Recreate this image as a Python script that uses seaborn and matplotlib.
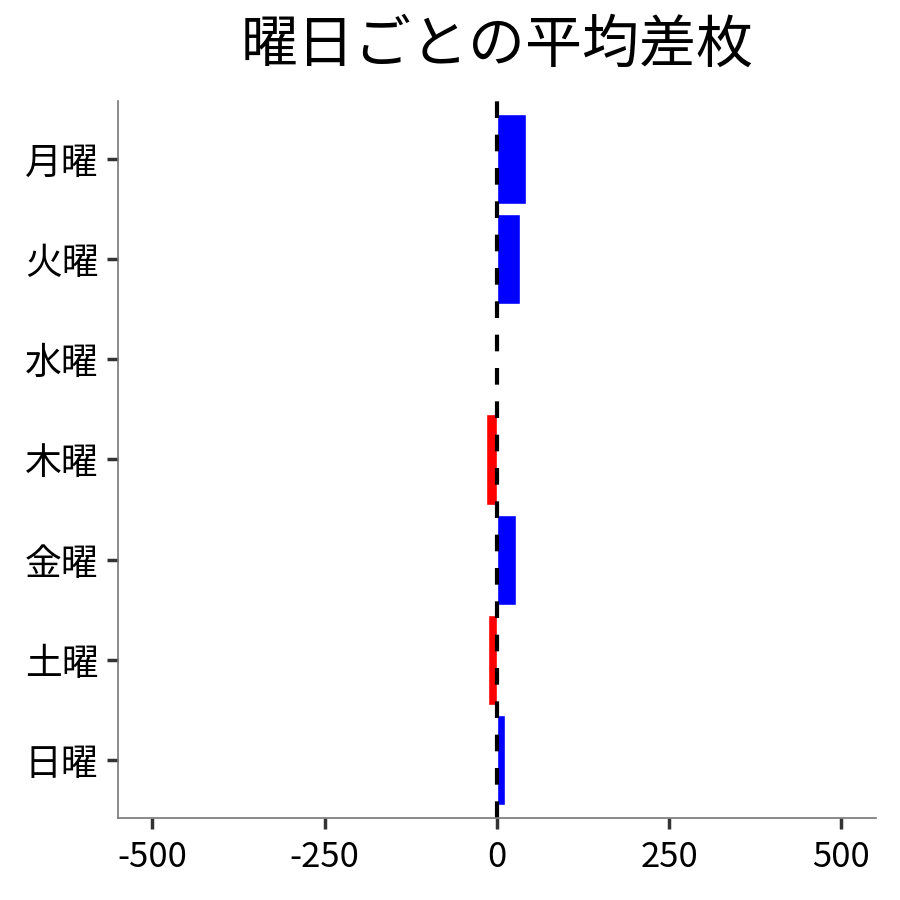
import matplotlib
matplotlib.use("Agg")
import matplotlib.pyplot as plt
import seaborn as sns
import pandas as pd

# data
days = ["月曜", "火曜", "水曜", "木曜", "金曜", "土曜", "日曜"]
avg_diff = [42, 33, 0, -15, 28, -13, 12]
title = "曜日ごとの平均差枚"
xticks = [-500, -250, 0, 250, 500]

sns.set_theme(style="ticks")
plt.rcParams["font.family"] = ["Noto Sans CJK JP", "DejaVu Sans"]
plt.rcParams["text.color"] = "black"
plt.rcParams["xtick.labelcolor"] = "black"
plt.rcParams["ytick.labelcolor"] = "black"

df = pd.DataFrame({"day": days, "diff": avg_diff})
colors = ["#0000ff" if v >= 0 else "#ff0000" for v in avg_diff]

fig = plt.figure(figsize=(9, 9), dpi=100)
ax = fig.add_axes([0.131, 0.091, 0.842, 0.797])

sns.barplot(data=df, x="diff", y="day", hue="day", palette=colors,
            width=0.9, legend=False, saturation=1, ax=ax)
ax.axvline(0, color="black", lw=3, ls=(0, (4, 4)))

ax.set_xlim(-550, 550)
ax.set_ylim(6.58, -0.58)
ax.set_xticks(xticks)
ax.set_xticklabels([str(t) for t in xticks])
ax.set_xlabel("")
ax.set_ylabel("")
ax.set_title(title, fontsize=41, pad=28, color="black")

sns.despine(ax=ax)
for s in ["left", "bottom"]:
    ax.spines[s].set_color("#777777")
    ax.spines[s].set_linewidth(1.2)
ax.tick_params(axis="both", length=8, width=2.5, color="#333333")
ax.tick_params(axis="y", labelsize=26.5, pad=6)
ax.tick_params(axis="x", labelsize=25, pad=8)

fig.savefig("out.png", dpi=100)
